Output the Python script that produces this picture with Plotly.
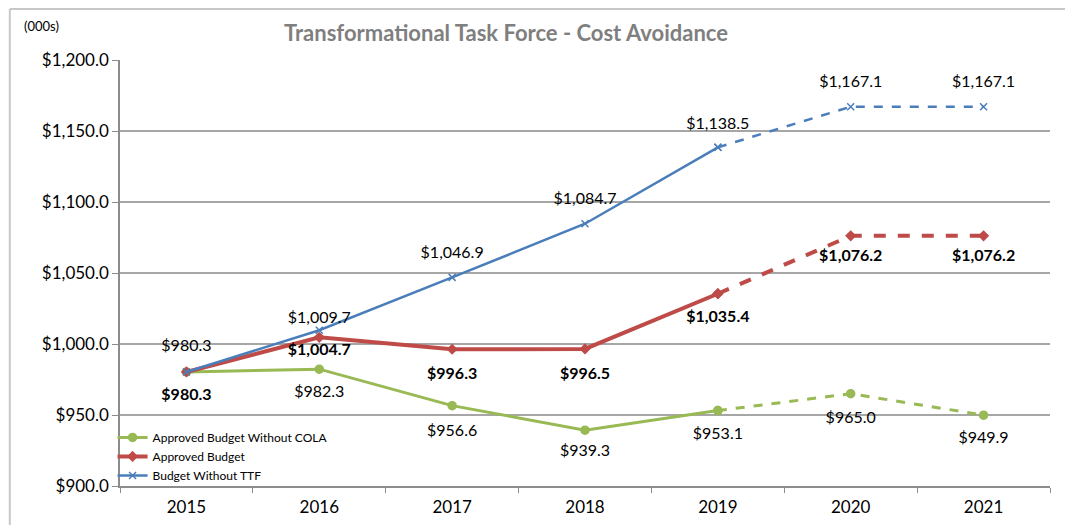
import plotly.graph_objects as go

years = ["2015", "2016", "2017", "2018", "2019", "2020", "2021"]
no_cola = [980.3, 982.3, 956.6, 939.3, 953.1, 965.0, 949.9]
approved = [980.3, 1004.7, 996.3, 996.5, 1035.4, 1076.2, 1076.2]
no_ttf = [980.3, 1009.7, 1046.9, 1084.7, 1138.5, 1167.1, 1167.1]
y_ticks = [900, 950, 1000, 1050, 1100, 1150, 1200]

GREEN = "#98b954"
RED = "#be4b48"
BLUE = "#4a7ebb"
FONT = "Lato, 'Open Sans', sans-serif"

# browser body margin compensation (page has an 8px body margin)
OFF = 8
W, H = 1073 - OFF, 525 - OFF


def fmt(v):
    return "${:,.1f}".format(v)


fig = go.Figure()


def add_series(name, vals, color, width, symbol, msize):
    fig.add_trace(go.Scatter(
        x=years[:5], y=vals[:5], name=name, mode="lines+markers",
        line=dict(color=color, width=width),
        marker=dict(symbol=symbol, size=msize, color=color,
                    line=dict(color=color, width=1.5)),
        showlegend=True, hoverinfo="skip"))
    fig.add_trace(go.Scatter(
        x=years[4:], y=vals[4:], name=name, mode="lines+markers",
        line=dict(color=color, width=width, dash="dash"),
        marker=dict(symbol=symbol, size=msize, color=color,
                    line=dict(color=color, width=1.5)),
        showlegend=False, hoverinfo="skip"))


def add_labels(vals, pos, bold, gaps, skip_first=False):
    texts = [("<b>%s</b>" % fmt(v)) if bold else fmt(v) for v in vals]
    if skip_first:
        texts[0] = ""
    fig.add_trace(go.Scatter(
        x=years, y=vals, mode="markers+text", text=texts, textposition=pos,
        marker=dict(size=gaps, opacity=0, color="white"),
        textfont=dict(size=16, color="#000000", family=FONT),
        showlegend=False, hoverinfo="skip", cliponaxis=False))


add_series("Approved Budget Without COLA", no_cola, GREEN, 3, "circle", 8)
add_series("Approved Budget", approved, RED, 4, "diamond", 7)
add_series("Budget Without TTF", no_ttf, BLUE, 2.5, "x-thin", 7)

# invisible marker sizes only control the label distance from each point
add_labels(no_cola, "bottom center", False, [24, 23, 27, 21, 24, 26, 24], skip_first=True)
add_labels(approved, "bottom center", True, [24, 7, 27, 27, 24, 19, 19])
add_labels(no_ttf, "top center", False, [26, 3, 23, 23, 21, 23, 23])

fig.update_layout(
    width=W, height=H,
    margin=dict(l=120 - OFF, r=23, t=60 - OFF, b=39),
    paper_bgcolor="white", plot_bgcolor="white",
    font=dict(family=FONT, color="#000000"),
    title=dict(text="<b>Transformational Task Force - Cost Avoidance</b>",
               x=(506 - OFF) / W, xanchor="center",
               y=1 - (33 - OFF) / H, yanchor="middle",
               font=dict(size=22, color="#7f7f7f", family=FONT)),
    showlegend=True,
    legend=dict(x=-0.008, y=0.148, xanchor="left", yanchor="top",
                bgcolor="rgba(255,255,255,0)", font=dict(size=12, family=FONT),
                tracegroupgap=0, itemwidth=30),
    xaxis=dict(type="category", categoryorder="array", categoryarray=years,
               showgrid=False, showline=True, linecolor="#8c8c8c", linewidth=1.5,
               ticks="outside", tickson="boundaries", ticklen=5, tickcolor="#8c8c8c",
               ticklabelstandoff=5, automargin=False,
               tickfont=dict(size=17, family=FONT), range=[-0.5, 6.5]),
    yaxis=dict(range=[900, 1200], tickvals=y_ticks,
               ticktext=[fmt(v) for v in y_ticks], automargin=False,
               showgrid=True, gridcolor="#a6a6a6", gridwidth=1.5,
               showline=True, linecolor="#8c8c8c", linewidth=1.5,
               ticks="outside", ticklen=6, tickcolor="#8c8c8c",
               tickfont=dict(size=17, family=FONT), zeroline=False),
    annotations=[dict(text="(000s)", xref="paper", yref="paper",
                      x=-0.105, y=1.08, xanchor="left", yanchor="middle",
                      showarrow=False, font=dict(size=13, family=FONT))],
    shapes=[
        dict(type="line", xref="paper", yref="paper", x0=-0.1185, x1=1.03,
             y0=1.1197, y1=1.1197, line=dict(color="#c8c8c8", width=2)),
        dict(type="line", xref="paper", yref="paper", x0=-0.1185, x1=-0.1185,
             y0=1.1197, y1=-0.1, line=dict(color="#c8c8c8", width=2)),
    ],
)

fig.write_html("out.html")
